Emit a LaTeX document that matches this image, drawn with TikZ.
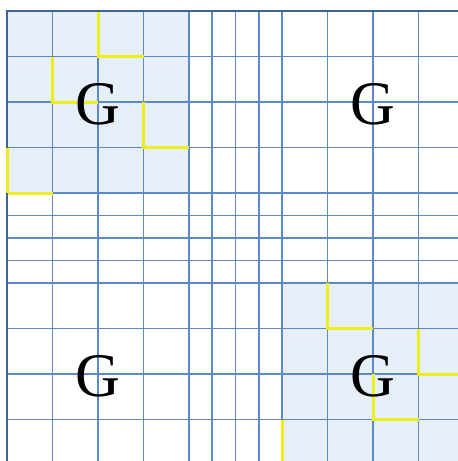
\documentclass[tikz,border=0pt]{standalone}
\usepackage{fontspec}
\setmainfont{Liberation Serif}
\definecolor{gridblue}{HTML}{5B8AC6}
\definecolor{edgeblue}{HTML}{3F6494}
\definecolor{cellfill}{HTML}{E6EEF8}
\definecolor{pathyellow}{HTML}{EEEE1E}
\begin{document}
\begin{tikzpicture}[x=1pt,y=-1pt,
  gridline/.style={draw=gridblue,line width=1.8pt},
  edgeline/.style={draw=edgeblue,line width=2.4pt},
  yellowpath/.style={draw=pathyellow,line width=3pt,line join=miter},
  letter/.style={font=\fontsize{62}{62}\selectfont,inner sep=0pt,text=black}]
\useasboundingbox (0,0) rectangle (458,461);
\begin{scope}
\clip (0,0) rectangle (458,461);
% fills
\fill[cellfill] (7,11) rectangle (189,193);
\fill[cellfill] (282,283) rectangle (464,465);
% vertical lines
\foreach \x in {52.5,98,143.5,189,212.25,235.5,258.75,282,327.5,373,418.5}
  \draw[gridline] (\x,11) -- (\x,465);
% horizontal lines
\foreach \y in {56.5,102,147.5,193,215.5,238,260.5,283,328.5,374,419.5}
  \draw[gridline] (7,\y) -- (464,\y);
% yellow paths, top-left block
\draw[yellowpath] (98,11) -- (98,56.5) -- (143.5,56.5);
\draw[yellowpath] (52.5,56.5) -- (52.5,102) -- (98,102);
\draw[yellowpath] (143.5,102) -- (143.5,147.5) -- (189,147.5);
\draw[yellowpath] (7,147.5) -- (7,193) -- (52.5,193);
% yellow paths, bottom-right block
\draw[yellowpath] (327.5,283) -- (327.5,328.5) -- (373,328.5);
\draw[yellowpath] (418.5,328.5) -- (418.5,374) -- (464,374);
\draw[yellowpath] (373,374) -- (373,419.5) -- (418.5,419.5);
\draw[yellowpath] (282,419.5) -- (282,465);
% outer edges
\draw[edgeline] (7,465) -- (7,11) -- (464,11);
\draw[yellowpath] (7,147.5) -- (7,193);
\end{scope}
% letters
\node[letter] (g1) at (98,104) {G};
\node[letter] (g2) at (373,104) {G};
\node[letter] (g3) at (98,376) {G};
\node[letter] (g4) at (373,376) {G};
\end{tikzpicture}
\end{document}
